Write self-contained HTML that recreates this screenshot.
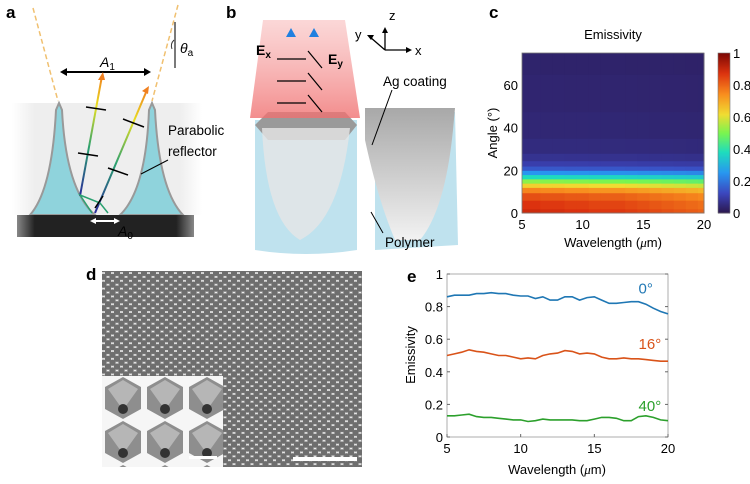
<!DOCTYPE html>
<html><head><meta charset="utf-8"><style>
body{margin:0;background:#fff;width:750px;height:479px;overflow:hidden;font-family:"Liberation Sans",Arial,sans-serif}
svg text{font-family:"Liberation Sans",Arial,sans-serif}
</style></head><body>
<svg id="fig" width="750" height="479" viewBox="0 0 750 479" xmlns="http://www.w3.org/2000/svg">
<defs>
<linearGradient id="bgfade" x1="0" x2="1"><stop offset="0" stop-color="#fff"/><stop offset="0.12" stop-color="#eee"/><stop offset="0.88" stop-color="#eee"/><stop offset="1" stop-color="#fff"/></linearGradient>
<linearGradient id="sub" x1="0" x2="1"><stop offset="0" stop-color="#888"/><stop offset="0.1" stop-color="#222"/><stop offset="0.9" stop-color="#222"/><stop offset="1" stop-color="#888"/></linearGradient>
<linearGradient id="ray" x1="0" y1="1" x2="0" y2="0"><stop offset="0" stop-color="#2a2a9a"/><stop offset="0.4" stop-color="#2aa070"/><stop offset="0.75" stop-color="#e8e020"/><stop offset="1" stop-color="#f08020"/></linearGradient>
<linearGradient id="rayb" x1="0" y1="1" x2="0" y2="0"><stop offset="0" stop-color="#e02010"/><stop offset="0.35" stop-color="#f8e020"/><stop offset="0.65" stop-color="#30b060"/><stop offset="1" stop-color="#2080e0"/></linearGradient>
<linearGradient id="beam" x1="0" y1="0" x2="0" y2="1"><stop offset="0" stop-color="#f7b0b0" stop-opacity="0.5"/><stop offset="1" stop-color="#f07070" stop-opacity="0.8"/></linearGradient>
<linearGradient id="ag" x1="0" y1="0" x2="0" y2="1"><stop offset="0" stop-color="#a8a8a8"/><stop offset="1" stop-color="#f2f2f2"/></linearGradient>
<pattern id="honey" width="9" height="7.8" patternUnits="userSpaceOnUse"><rect width="9" height="7.8" fill="#eeeeee"/><circle cx="4.5" cy="3.9" r="3.2" fill="#6e6e6e"/><circle cx="0" cy="0" r="3.2" fill="#6e6e6e"/><circle cx="9" cy="0" r="3.2" fill="#6e6e6e"/><circle cx="0" cy="7.8" r="3.2" fill="#6e6e6e"/><circle cx="9" cy="7.8" r="3.2" fill="#6e6e6e"/></pattern>
<pattern id="honey2" x="102" y="376" width="42" height="44" patternUnits="userSpaceOnUse"><rect width="42" height="44" fill="#f6f6f6"/><polygon points="21,1 39,11 39,33 21,43 3,33 3,11" fill="#8e8e8e"/><polygon points="21,4 36,13 21,34 6,13" fill="#b6b6b6"/><circle cx="21" cy="33" r="5" fill="#333"/></pattern>
</defs>

<!-- panel labels -->
<g font-weight="bold" font-size="17" fill="#000">
<text x="6" y="18">a</text>
<text x="226" y="18">b</text>
<text x="489" y="18">c</text>
<text x="86" y="280">d</text>
<text x="407" y="282">e</text>
</g>

<!-- panel a -->
<g>
<rect x="12" y="103" width="190" height="112" fill="url(#bgfade)"/>
<path d="M30,215 Q52,190 56,110 L59,103 L62,110 Q66,190 95,215 Z" fill="#8fd3dc" stroke="#999" stroke-width="2"/>
<path d="M120,215 Q146,190 149,110 L152,103 L155,110 Q159,190 183,215 Z" fill="#8fd3dc" stroke="#999" stroke-width="2"/>
<rect x="17" y="215" width="177" height="22" fill="url(#sub)"/>
<line x1="33" y1="8" x2="58" y2="101" stroke="#f0c070" stroke-width="1.5" stroke-dasharray="5,3"/>
<line x1="178" y1="5" x2="152" y2="101" stroke="#f0c070" stroke-width="1.5" stroke-dasharray="5,3"/>
<line x1="175" y1="22" x2="175" y2="68" stroke="#333" stroke-width="1.3"/>
<path d="M174,40 Q170,44 172,49" fill="none" stroke="#333"/>
<text x="180" y="53" font-size="14" font-style="italic" font-family="Liberation Serif">θ<tspan font-size="10" font-style="normal" dy="3">a</tspan></text>
<line x1="63" y1="72" x2="148" y2="72" stroke="#000" stroke-width="2"/>
<path d="M60,72 l7,-4 v8z M151,72 l-7,-4 v8z"/>
<text x="100" y="67" font-size="14" font-style="italic" font-family="Liberation Serif">A<tspan font-size="10" font-style="normal" dy="3">1</tspan></text>
<line x1="80" y1="196" x2="102" y2="76" stroke="url(#ray)" stroke-width="2"/>
<path d="M103,72 l-5,8 h7z" fill="#f08020"/>
<line x1="95" y1="213" x2="147" y2="90" stroke="url(#ray)" stroke-width="2"/>
<path d="M149,86 l-7,5 l6,3z" fill="#f08020"/>
<path d="M92,213 L80,195 L100,203 L108,213" fill="none" stroke="#2aa070" stroke-width="1.5"/>
<g stroke="#000" stroke-width="1.5">
<line x1="86" y1="107" x2="106" y2="110"/><line x1="78" y1="153" x2="98" y2="156"/>
<line x1="123" y1="119" x2="144" y2="127"/><line x1="108" y1="168" x2="128" y2="175"/>
<line x1="95" y1="208" x2="103" y2="196"/>
</g>
<line x1="93" y1="221" x2="117" y2="221" stroke="#fff" stroke-width="2"/>
<path d="M90,221 l6,-3 v6z M120,221 l-6,-3 v6z" fill="#fff"/>
<text x="118" y="236" font-size="14" font-style="italic" font-family="Liberation Serif" fill="#000">A<tspan font-size="10" font-style="normal" dy="3">0</tspan></text>
<text x="168" y="135" font-size="13.5">Parabolic</text>
<text x="168" y="156" font-size="13.5">reflector</text>
<line x1="168" y1="160" x2="141" y2="174" stroke="#000"/>
</g>

<!-- panel b -->
<g>
<path d="M255,120 L357,120 L357,250 Q306,258 255,250 Z" fill="#bfe2ee"/>
<path d="M268,112 L345,112 L357,125 L345,140 L268,140 L255,125 Z" fill="#9a9a9a"/>
<path d="M262,128 Q266,220 300,240 Q340,220 350,128 Z" fill="#e6e6e6" opacity="0.8"/>
<path d="M263,20 L345,20 L360,118 L250,118 Z" fill="url(#beam)"/>
<path d="M375,112 L455,112 L458,245 L375,250 Z" fill="#bfe2ee"/>
<path d="M365,108 L455,108 L453,130 Q445,210 420,240 L395,240 Q378,200 365,140 Z" fill="url(#ag)"/>
<line x1="291" y1="125" x2="291" y2="36" stroke="url(#rayb)" stroke-width="3"/>
<line x1="314" y1="125" x2="314" y2="36" stroke="url(#rayb)" stroke-width="3"/>
<path d="M291,28 l-5,9 h10z" fill="#2080e0"/><path d="M314,28 l-5,9 h10z" fill="#2080e0"/>
<g stroke="#000" stroke-width="1.2">
<line x1="277" y1="59" x2="306" y2="59"/><line x1="277" y1="81" x2="306" y2="81"/><line x1="277" y1="103" x2="306" y2="103"/>
<line x1="308" y1="51" x2="322" y2="68"/><line x1="308" y1="73" x2="322" y2="90"/><line x1="308" y1="95" x2="322" y2="112"/>
</g>
<text x="256" y="55" font-size="14" font-weight="bold">E<tspan font-size="10" dy="3">x</tspan></text>
<text x="328" y="64" font-size="14" font-weight="bold">E<tspan font-size="10" dy="3">y</tspan></text>
<g stroke="#000" stroke-width="1.3" fill="none"><path d="M385,50 H409 M385,50 V30 M385,50 L370,37"/></g>
<path d="M412,50 l-6,-3 v6z M385,27 l-3,6 h6z M367,35 l7,0 l-3,5z"/>
<text x="389" y="20" font-size="13">z</text><text x="355" y="39" font-size="13">y</text><text x="415" y="55" font-size="13">x</text>
<text x="383" y="86" font-size="13.5">Ag coating</text>
<line x1="392" y1="90" x2="372" y2="145" stroke="#000"/>
<text x="385" y="247" font-size="13.5">Polymer</text>
<line x1="383" y1="233" x2="371" y2="212" stroke="#000"/>
</g>

<!-- panel c heatmap -->
<g id="heat"></g>
<text x="613" y="39" font-size="13" text-anchor="middle">Emissivity</text>
<text x="613" y="247" font-size="13" text-anchor="middle">Wavelength (<tspan font-style="italic" font-family="Liberation Serif">μ</tspan>m)</text>
<text transform="translate(497,133) rotate(-90)" font-size="13" text-anchor="middle">Angle (°)</text>

<!-- panel d -->
<g>
<rect x="102" y="271" width="260" height="196" fill="url(#honey)"/>
<rect x="102" y="376" width="121" height="91" fill="url(#honey2)"/>
<rect x="293" y="457" width="64" height="4" fill="#fff"/>
<rect x="189" y="456" width="28" height="3" fill="#fff"/>
</g>

<!-- panel e -->
<g id="lines"></g>
<text x="557" y="474" font-size="13" text-anchor="middle">Wavelength (<tspan font-style="italic" font-family="Liberation Serif">μ</tspan>m)</text>
<text transform="translate(415,355) rotate(-90)" font-size="13" text-anchor="middle">Emissivity</text>
</svg>
<script>
const NS='http://www.w3.org/2000/svg';
// heatmap data
const heatWavelengths=[5,6,7,8,9,10,11,12,13,14,15,16,17,18,19,20];
const heatAngles=[0,4,8,11,13,15,17,19,21,23,26,30,40,55,75];
const heatProfile=[0.9,0.88,0.84,0.76,0.64,0.52,0.38,0.25,0.15,0.1,0.07,0.05,0.04,0.035,0.03];
const heatWaveScale=[1,1,0.99,0.99,0.98,0.98,0.97,0.97,0.97,0.96,0.95,0.94,0.93,0.92,0.91,0.9];
const cbarTicks=[0,0.2,0.4,0.6,0.8,1];
const angleTicks=[0,20,40,60];
const heatXTicks=[5,10,15,20];
// line chart data
const lineWavelengths=[5,5.5,6,6.5,7,7.5,8,8.5,9,9.5,10,10.5,11,11.5,12,12.5,13,13.5,14,14.5,15,15.5,16,16.5,17,17.5,18,18.5,19,19.5,20];
const emis0=[0.86,0.87,0.87,0.87,0.88,0.88,0.885,0.88,0.88,0.87,0.865,0.865,0.85,0.86,0.84,0.84,0.86,0.86,0.84,0.855,0.86,0.84,0.82,0.82,0.825,0.83,0.83,0.815,0.79,0.77,0.755];
const emis16=[0.5,0.51,0.52,0.535,0.525,0.52,0.51,0.5,0.5,0.49,0.48,0.485,0.48,0.5,0.51,0.515,0.53,0.525,0.51,0.515,0.51,0.49,0.48,0.48,0.485,0.48,0.48,0.475,0.47,0.465,0.465];
const emis40=[0.13,0.13,0.135,0.14,0.125,0.12,0.12,0.115,0.11,0.105,0.105,0.095,0.1,0.11,0.105,0.105,0.105,0.105,0.1,0.1,0.11,0.12,0.12,0.115,0.1,0.1,0.125,0.13,0.12,0.105,0.1];
const seriesLabels=['0°','16°','40°'];
const emisTicks=[0,0.2,0.4,0.6,0.8,1];
const lineXTicks=[5,10,15,20];

function mk(tag,attrs,parent){const e=document.createElementNS(NS,tag);for(const k in attrs)e.setAttribute(k,attrs[k]);parent.appendChild(e);return e;}
const stops=[[0,[43,24,80]],[0.12,[60,70,190]],[0.25,[40,150,240]],[0.38,[30,220,190]],[0.5,[120,245,80]],[0.62,[240,220,50]],[0.75,[248,140,30]],[0.88,[220,50,15]],[1,[130,10,5]]];
function cmap(v){v=Math.max(0,Math.min(1,v));for(let i=1;i<stops.length;i++){if(v<=stops[i][0]){const a=stops[i-1],b=stops[i],t=(v-a[0])/(b[0]-a[0]);return 'rgb('+a[1].map((c,j)=>Math.round(c+(b[1][j]-c)*t)).join(',')+')';}}return 'rgb(130,10,5)';}

// heatmap axes
const hx0=522,hx1=704,hy0=213,hy1=53;
const hX=w=>hx0+(w-5)/15*(hx1-hx0);
const hY=a=>hy0-a/75*(hy0-hy1);
const heat=document.getElementById('heat');
for(let i=0;i<heatWavelengths.length;i++){
  const xa=i===0?hx0:(hX(heatWavelengths[i-1])+hX(heatWavelengths[i]))/2;
  const xb=i===heatWavelengths.length-1?hx1:(hX(heatWavelengths[i])+hX(heatWavelengths[i+1]))/2;
  for(let j=0;j<heatAngles.length;j++){
    const ya=j===0?hy0:(hY(heatAngles[j-1])+hY(heatAngles[j]))/2;
    const yb=j===heatAngles.length-1?hy1:(hY(heatAngles[j])+hY(heatAngles[j+1]))/2;
    const r=mk('rect',{x:xa,y:yb,width:xb-xa+0.5,height:ya-yb+0.5,fill:cmap(heatProfile[j]*heatWaveScale[i])},heat);
    
    
  }
}
mk('rect',{x:hx0,y:hy1,width:hx1-hx0,height:hy0-hy1,fill:'none',stroke:'#777','stroke-width':0.8},heat);
angleTicks.forEach(a=>{const t=mk('text',{x:hx0-4,y:hY(a)+5,'font-size':13,'text-anchor':'end'},heat);t.textContent=a;
});
heatXTicks.forEach(w=>{const t=mk('text',{x:hX(w),y:hy0+16,'font-size':13,'text-anchor':'middle'},heat);t.textContent=w;
});
// colorbar
const cbx=718,cbw=12;
for(let k=0;k<80;k++){const v=k/79;const r=mk('rect',{x:cbx,y:hy0-(k+1)*(hy0-hy1)/80,width:cbw,height:(hy0-hy1)/80+0.5,fill:cmap(v)},heat);
}
mk('rect',{x:cbx,y:hy1,width:cbw,height:hy0-hy1,fill:'none',stroke:'#777','stroke-width':0.6},heat);
cbarTicks.forEach(v=>{const t=mk('text',{x:cbx+cbw+3,y:hy0-v*(hy0-hy1)+5,'font-size':13},heat);t.textContent=v;
});

// line chart
const lx0=447,lx1=668,ly0=437,ly1=274;
const lX=w=>lx0+(w-5)/15*(lx1-lx0);
const lY=v=>ly0-v*(ly0-ly1);
const lg=document.getElementById('lines');
mk('rect',{x:lx0,y:ly1,width:lx1-lx0,height:ly0-ly1,fill:'none',stroke:'#999','stroke-width':0.8},lg);
emisTicks.forEach(v=>{mk('line',{x1:lx0,x2:lx0+3,y1:lY(v),y2:lY(v),stroke:'#666'},lg);mk('line',{x1:lx1,x2:lx1-3,y1:lY(v),y2:lY(v),stroke:'#666'},lg);
const t=mk('text',{x:lx0-4,y:lY(v)+5,'font-size':13,'text-anchor':'end'},lg);t.textContent=v;
});
lineXTicks.forEach(w=>{mk('line',{x1:lX(w),x2:lX(w),y1:ly0,y2:ly0-3,stroke:'#666'},lg);
const t=mk('text',{x:lX(w),y:ly0+16,'font-size':13,'text-anchor':'middle'},lg);t.textContent=w;
});
const series=[emis0,emis16,emis40],colors=['#1f77b4','#d95319','#2ca02c'],labelPos=[[18,0.88],[18,0.54],[18,0.16]];
series.forEach((s,i)=>{
  const p=mk('path',{d:s.map((v,k)=>(k?'L':'M')+lX(lineWavelengths[k]).toFixed(1)+','+lY(v).toFixed(1)).join(''),fill:'none',stroke:colors[i],'stroke-width':1.6},lg);
  
  
  const t=mk('text',{x:lX(labelPos[i][0]),y:lY(labelPos[i][1]),'font-size':15,fill:colors[i]},lg);t.textContent=seriesLabels[i];
  
  
});
</script>
</body></html>
